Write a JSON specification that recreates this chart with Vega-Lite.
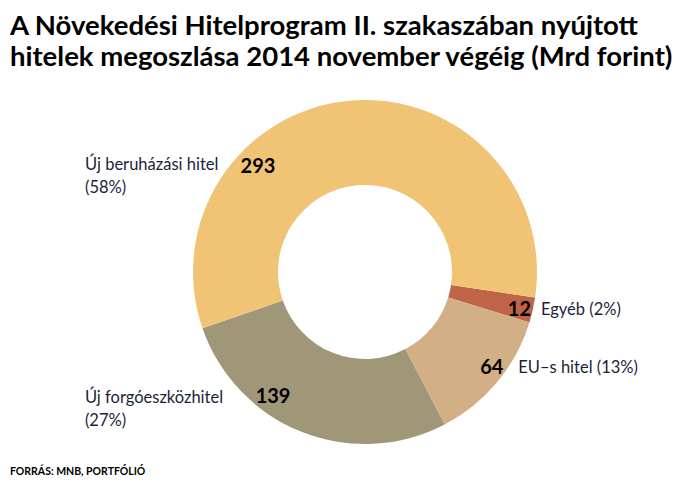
{
  "$schema": "https://vega.github.io/schema/vega-lite/v6.json",
  "background": "white",
  "padding": {"left": 10, "top": 12, "right": 0, "bottom": 0},
  "config": {"view": {"stroke": null}, "concat": {"spacing": 0}},
  "title": {
    "text": ["A Növekedési Hitelprogram II. szakaszában nyújtott", "hitelek megoszlása 2014 november végéig (Mrd forint)"],
    "anchor": "start",
    "frame": "group",
    "baseline": "top",
    "font": "Lato",
    "fontWeight": "bold",
    "fontSize": 27.5,
    "lineHeight": 31,
    "color": "#000000",
    "offset": 10
  },
  "vconcat": [
    {
      "title": {
        "text": "FORRÁS: MNB, PORTFÓLIÓ",
        "orient": "bottom",
        "anchor": "start",
        "frame": "group",
        "baseline": "top",
        "font": "Lato",
        "fontWeight": "bold",
        "fontSize": 10.5,
        "color": "#000000",
        "offset": 4
      },
      "spacing": 0,
      "hconcat": [
        {
          "width": 30,
          "height": 382,
          "data": {"values": []},
          "mark": "point",
          "encoding": {}
        },
        {
          "width": 650,
          "height": 382,
          "data": {
            "values": [
              {"cat": "Egyéb", "label": "Egyéb (2%)", "value": 12, "ord": 1},
              {"cat": "EU–s hitel", "label": "EU–s hitel (13%)", "value": 64, "ord": 2},
              {"cat": "Új forgóeszközhitel", "label": "Új forgóeszközhitel\n(27%)", "value": 139, "ord": 3},
              {"cat": "Új beruházási hitel", "label": "Új beruházási hitel\n(58%)", "value": 293, "ord": 4}
            ]
          },
          "encoding": {
            "theta": {"field": "value", "type": "quantitative", "stack": true, "scale": {"range": [1.72, 8.0032]}},
            "order": {"field": "ord", "type": "quantitative"}
          },
          "layer": [
            {
              "mark": {"type": "arc", "innerRadius": 87, "outerRadius": 172},
              "encoding": {
                "color": {
                  "field": "cat",
                  "type": "nominal",
                  "scale": {
                    "domain": ["Egyéb", "EU–s hitel", "Új forgóeszközhitel", "Új beruházási hitel"],
                    "range": ["#BF6448", "#D3AF86", "#A09678", "#F0C375"]
                  },
                  "legend": null
                }
              }
            },
            {
              "mark": {
                "type": "text",
                "font": "Lato",
                "fontWeight": "bold",
                "fontSize": 20,
                "color": "#000000",
                "align": "center",
                "baseline": "middle",
                "radius": {"expr": "datum.ord == 4 ? 150 : datum.ord == 3 ? 155 : 159"},
                "thetaOffset": {"expr": "datum.ord == 4 ? -0.702 : datum.ord == 3 ? 0.257 : datum.ord == 2 ? -0.046 : 0.017"}
              },
              "encoding": {"text": {"field": "value", "type": "quantitative"}}
            },
            {
              "mark": {
                "type": "text",
                "font": "Lato",
                "fontSize": 16.5,
                "lineHeight": 23,
                "lineBreak": "\n",
                "color": "#1c1f3a",
                "align": "left",
                "baseline": "middle",
                "radius": {"expr": "datum.ord == 4 ? 299.7 : datum.ord == 3 ? 307 : datum.ord == 2 ? 181 : 180"},
                "thetaOffset": {"expr": "datum.ord == 4 ? -1.114 : datum.ord == 3 ? 0.771 : datum.ord == 2 ? -0.133 : -0.01"}
              },
              "encoding": {"text": {"field": "label", "type": "nominal"}}
            }
          ]
        }
      ]
    }
  ]
}
